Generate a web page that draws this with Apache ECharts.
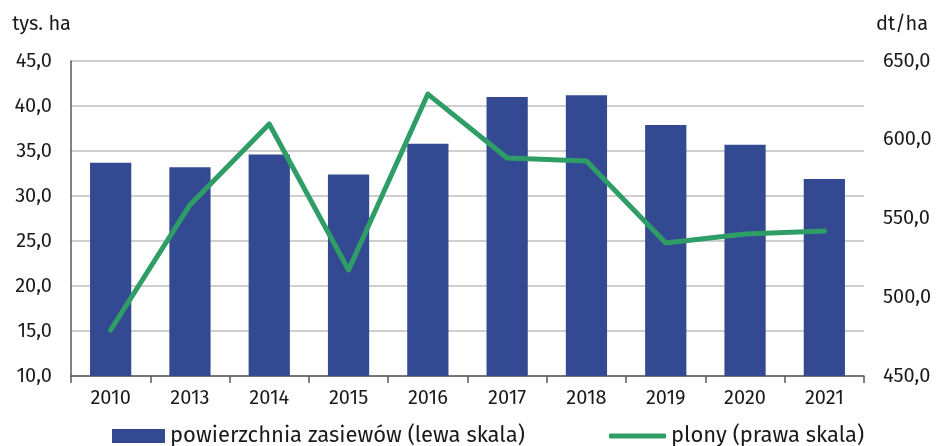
<!DOCTYPE html>
<html>
<head>
<meta charset="utf-8">
<script src="https://cdn.jsdelivr.net/npm/echarts@6/dist/echarts.min.js"></script>
<style>
    html, body {margin: 0; padding: 0; background: #fff;}
    #container {width: 936px; height: 446px;}
</style>
</head>
<body>
<div id="container"></div>
<script>
var years = ['2010', '2013', '2014', '2015', '2016', '2017', '2018', '2019', '2020', '2021'];
var areaData = [33.7, 33.2, 34.6, 32.4, 35.8, 41.0, 41.2, 37.9, 35.7, 31.9];
var yieldData = [479.2, 558.6, 610.0, 517.3, 629.0, 588.4, 586.5, 534.4, 540.2, 542.0];
var areaName = 'powierzchnia zasiewów (lewa skala)';
var yieldName = 'plony (prawa skala)';

function fmt(v) {
    return v.toFixed(1).replace('.', ',');
}

var font = 'Fira Sans, "Open Sans", "Noto Sans", sans-serif';
var textColor = '#1a1a1a';
var fs = 20;

var dom = document.getElementById('container');
var myChart = echarts.init(dom);
var option = {
    animation: false,
    textStyle: {fontFamily: font},
    grid: {left: 71, right: 72, top: 61, bottom: 70, containLabel: false},
    legend: [
        {
            data: [{name: areaName, icon: 'rect'}],
            left: 107,
            top: 420,
            itemWidth: 53,
            itemHeight: 14,
            textStyle: {fontSize: 22, color: textColor, fontFamily: font}
        },
        {
            data: [{name: yieldName, icon: 'roundRect'}],
            left: 604,
            top: 420,
            itemWidth: 57,
            itemHeight: 5,
            itemGap: 3,
            textStyle: {fontSize: 22, color: textColor, fontFamily: font}
        }
    ],
    xAxis: [
        {
            type: 'category',
            data: years,
            axisLine: {lineStyle: {color: '#595959', width: 1.5}},
            axisTick: {show: true, length: 7, lineStyle: {color: '#595959', width: 1.5}},
            axisLabel: {fontSize: fs, color: textColor, margin: 12},
            splitLine: {show: false}
        }
    ],
    yAxis: [
        {
            type: 'value',
            min: 10,
            max: 45,
            interval: 5,
            name: 'tys. ha',
            nameLocation: 'end',
            nameGap: 27,
            nameTextStyle: {fontSize: fs, color: textColor, align: 'right'},
            axisLine: {show: true, lineStyle: {color: '#595959', width: 1.5}},
            axisTick: {show: false},
            axisLabel: {fontSize: fs, color: textColor, margin: 19, formatter: fmt},
            splitLine: {lineStyle: {color: '#bfbfbf', width: 1.5}}
        },
        {
            type: 'value',
            min: 450,
            max: 650,
            interval: 50,
            position: 'right',
            name: 'dt/ha',
            nameLocation: 'end',
            nameGap: 27,
            nameTextStyle: {fontSize: fs, color: textColor, align: 'left', padding: [0, 0, 0, 12]},
            axisLine: {show: false},
            axisTick: {show: false},
            axisLabel: {fontSize: fs, color: textColor, margin: 19, formatter: fmt},
            splitLine: {show: false}
        }
    ],
    series: [
        {
            name: areaName,
            type: 'bar',
            yAxisIndex: 0,
            data: areaData,
            barWidth: '52%',
            itemStyle: {color: '#334a93'}
        },
        {
            name: yieldName,
            type: 'line',
            yAxisIndex: 1,
            data: yieldData,
            showSymbol: false,
            symbol: 'none',
            lineStyle: {color: '#2e9e66', width: 5, cap: 'round', join: 'round'},
            itemStyle: {color: '#2e9e66'}
        }
    ]
};
myChart.setOption(option, true);
</script>
</body>
</html>
